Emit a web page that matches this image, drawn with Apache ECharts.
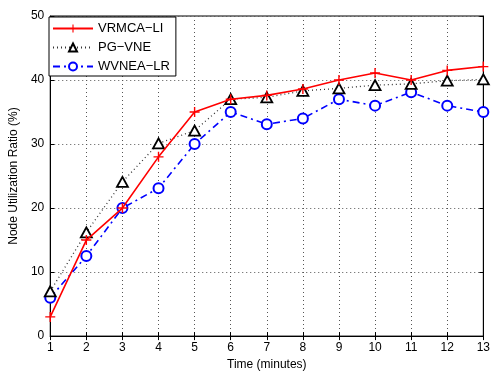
<!DOCTYPE html>
<html><head><meta charset="utf-8">
<script src="https://cdn.jsdelivr.net/npm/echarts@6/dist/echarts.min.js"></script>
<style>html,body{margin:0;padding:0;background:#fff}#c{width:493px;height:376px}</style>
</head><body><div id="c"></div>
<script>
const times = [1,2,3,4,5,6,7,8,9,10,11,12,13];
const vrmca = [3,15,20,28,35,37,37.6,38.6,40,41.1,40,41.5,42.1];
const pgvne = [7,16.2,24.1,30.1,32.1,37,37.3,38.3,38.7,39.2,39.4,39.9,40.1];
const wvnea = [6,12.5,20,23.1,30,35,33.1,34,37,36,38.1,36,35];
const seriesNames = ['VRMCA\u2212LI','PG\u2212VNE','WVNEA\u2212LR'];
const xTitle = 'Time (minutes)';
const yTitle = 'Node Utilization Ratio (%)';

const font = 'Liberation Sans, Arial, Helvetica, sans-serif';
const pair = (ys) => times.map((t,i)=>[t, ys[i]]);
const plus = 'path://M4.3,0h1.4v4.3h4.3v1.4h-4.3v4.3h-1.4v-4.3h-4.3v-1.4h4.3z';
const chart = echarts.init(document.getElementById('c'), null, {renderer:'canvas'});
const tickStyle = {show:true, inside:true, length:4, lineStyle:{color:'#000', width:1}};
chart.setOption({
  animation:false,
  backgroundColor:'#fff',
  textStyle:{fontFamily:font},
  grid:{left:49, right:6, top:16, bottom:35, show:true, borderColor:'#000', borderWidth:1},
  legend:{
    left:49, top:17, orient:'vertical', itemWidth:40, itemHeight:10, itemGap:6,
    padding:[5,6,3,3],
    borderColor:'#000', borderWidth:1, backgroundColor:'#fff',
    textStyle:{fontFamily:font, fontSize:13, color:'#000'},
    data:seriesNames
  },
  xAxis:[{
    type:'value', min:1, max:13, interval:1,
    name:xTitle, nameLocation:'middle', nameGap:20,
    nameTextStyle:{fontFamily:font, fontSize:12, color:'#000'},
    axisLine:{show:true, lineStyle:{color:'#000', width:1}},
    axisTick:tickStyle,
    axisLabel:{color:'#000', fontSize:12, fontFamily:font, margin:6},
    splitLine:{show:true, lineStyle:{color:'#555', type:[1,3], width:1}}
  },{
    type:'value', min:1, max:13, interval:1, position:'top',
    axisLine:{show:true, lineStyle:{color:'#000'}}, axisTick:tickStyle,
    axisLabel:{show:false}, splitLine:{show:false}
  }],
  yAxis:[{
    type:'value', min:0, max:50, interval:10,
    name:yTitle, nameLocation:'middle', nameGap:23, nameRotate:90,
    nameTextStyle:{fontFamily:font, fontSize:12, color:'#000'},
    axisLine:{show:true, lineStyle:{color:'#000', width:1}},
    axisTick:tickStyle,
    axisLabel:{color:'#000', fontSize:12, fontFamily:font, margin:6},
    splitLine:{show:true, lineStyle:{color:'#555', type:[1,3], width:1}}
  },{
    type:'value', min:0, max:50, interval:10, position:'right',
    axisLine:{show:true, lineStyle:{color:'#000'}}, axisTick:tickStyle,
    axisLabel:{show:false}, splitLine:{show:false}
  }],
  series:[
    {name:seriesNames[0], type:'line', data:pair(vrmca), symbol:plus, symbolSize:10,
     lineStyle:{color:'#ff0000', width:1.6}, itemStyle:{color:'#ff0000'}, z:5},
    {name:seriesNames[1], type:'line', data:pair(pgvne), symbol:'triangle', symbolSize:[11,10],
     lineStyle:{color:'#333', width:1.3, type:[1,3]},
     itemStyle:{color:'#fff', borderColor:'#000', borderWidth:1.8}, z:4},
    {name:seriesNames[2], type:'line', data:pair(wvnea), symbol:'emptyCircle', symbolSize:10,
     lineStyle:{color:'#0000ff', width:1.6, type:[7,4,2,4]},
     itemStyle:{color:'#0000ff', borderColor:'#0000ff', borderWidth:1.6}, z:3}
  ]
});
</script></body></html>
